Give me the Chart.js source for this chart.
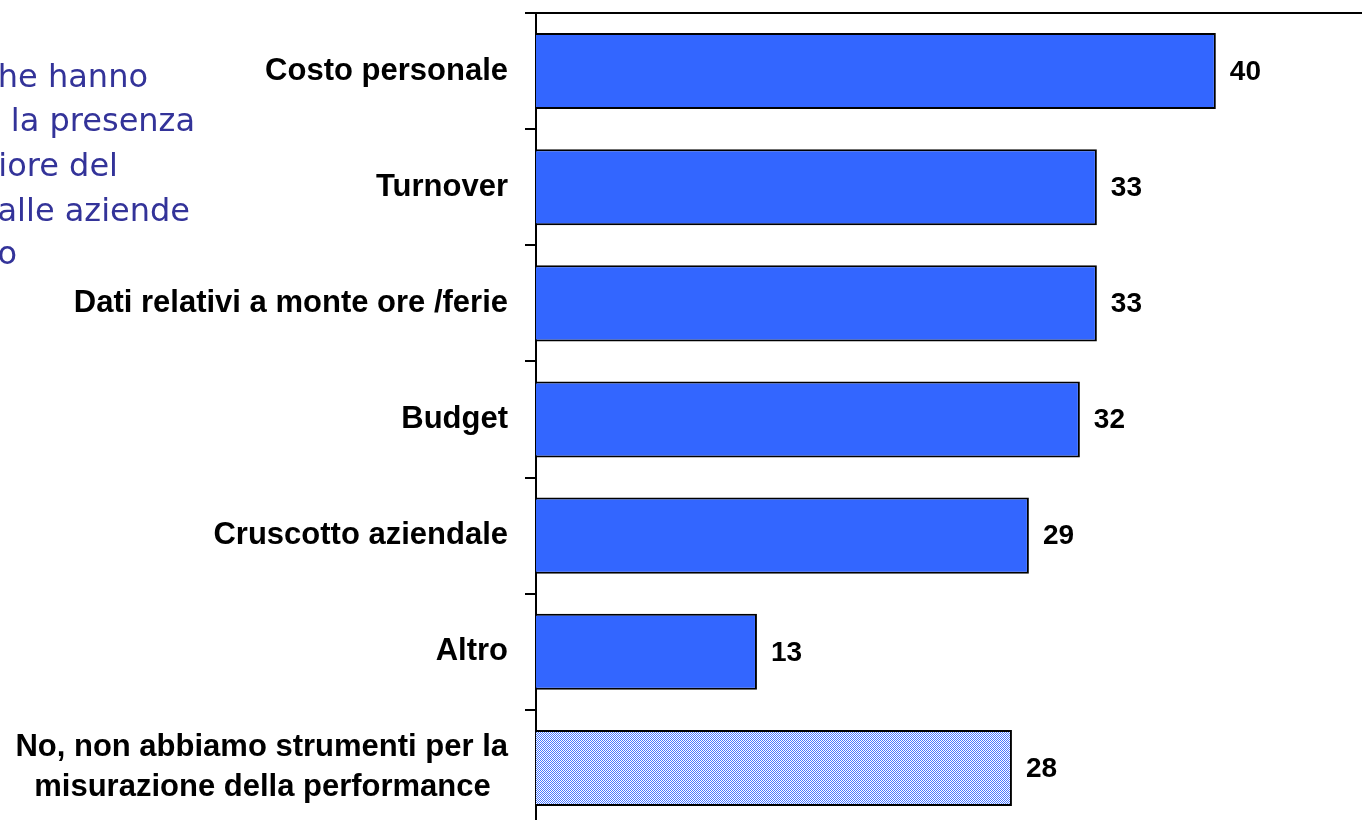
<!DOCTYPE html>
<html>
<head>
<meta charset="utf-8">
<script src="https://cdn.jsdelivr.net/npm/chart.js@4/dist/chart.umd.min.js"></script>
<style>
  html, body { margin: 0; padding: 0; background: #fff; overflow: hidden; width: 1362px; height: 820px; }
  #wrap { position: relative; width: 1362px; height: 820px; overflow: hidden; }
  canvas { position: absolute; left: 0; top: 0; }
  .note { position: absolute; white-space: nowrap; font-family: "DejaVu Sans", sans-serif; font-size: 32px; color: #333399; line-height: 1; }
</style>
</head>
<body>
<div id="wrap">
  <canvas id="chart" width="1362" height="828"></canvas>
  <div class="note" style="right:1214px; top:60px;">Percentuale di aziende che hanno</div>
  <div class="note" style="right:1167px; top:104px;">indicato la presenza</div>
  <div class="note" style="right:1244px; top:149px;">migliore del</div>
  <div class="note" style="right:1172px; top:194px;">personale dalle aziende</div>
  <div class="note" style="right:1345px; top:237px;">del campione pubblico</div>
</div>
<script>
const categories = [
  "Costo personale",
  "Turnover",
  "Dati relativi a monte ore /ferie",
  "Budget",
  "Cruscotto aziendale",
  "Altro",
  ["No, non abbiamo strumenti per la", "misurazione della performance  "]
];
const values = [40, 33, 33, 32, 29, 13, 28];

// checkered fill for the last bar
const tile = document.createElement("canvas");
tile.width = 2;
tile.height = 2;
const tctx = tile.getContext("2d");
tctx.fillStyle = "#ffffff";
tctx.fillRect(0, 0, 2, 2);
tctx.fillStyle = "#4a78ff";
tctx.fillRect(0, 0, 1, 1);
tctx.fillRect(1, 1, 1, 1);
const hatch = document.getElementById("chart").getContext("2d").createPattern(tile, "repeat");

const colors = values.map((v, i) => (i === values.length - 1 ? hatch : "#3366ff"));

const valueLabels = {
  id: "valueLabels",
  afterDatasetsDraw(chart) {
    const ctx = chart.ctx;
    const meta = chart.getDatasetMeta(0);
    ctx.save();
    ctx.font = "bold 28px 'Liberation Sans', Arial, sans-serif";
    ctx.fillStyle = "#000";
    ctx.textAlign = "left";
    ctx.textBaseline = "middle";
    meta.data.forEach((bar, i) => {
      ctx.fillText(values[i], bar.x + 14, bar.y + 1);
    });
    ctx.restore();
  }
};

new Chart(document.getElementById("chart"), {
  type: "bar",
  data: {
    labels: categories,
    datasets: [{
      data: values,
      backgroundColor: colors,
      borderColor: "#000",
      borderWidth: 2,
      categoryPercentage: 1,
      barPercentage: 0.655
    }]
  },
  options: {
    indexAxis: "y",
    responsive: false,
    animation: false,
    devicePixelRatio: 1,
    layout: { padding: { top: 13, left: 0, right: 0, bottom: 2 } },
    plugins: {
      legend: { display: false },
      tooltip: { enabled: false }
    },
    scales: {
      x: {
        position: "top",
        min: 0,
        max: 48.6,
        ticks: { display: false },
        grid: { display: false },
        border: { display: true, color: "#000", width: 2 },
        afterFit: (s) => { s.height = 0; s.paddingLeft = 0; s.paddingRight = 0; }
      },
      y: {
        offset: true,
        ticks: {
          color: "#000",
          padding: 17,
          font: { family: "'Liberation Sans', Arial, sans-serif", size: 31, weight: "bold", lineHeight: 1.29 }
        },
        grid: {
          offset: true,
          drawOnChartArea: false,
          drawTicks: true,
          tickLength: 11,
          color: "#000",
          lineWidth: 2
        },
        border: { display: true, color: "#000", width: 2 },
        afterFit: (s) => { s.width = 536; s.paddingTop = 0; s.paddingBottom = 0; }
      }
    }
  },
  plugins: [valueLabels]
});
</script>
</body>
</html>
